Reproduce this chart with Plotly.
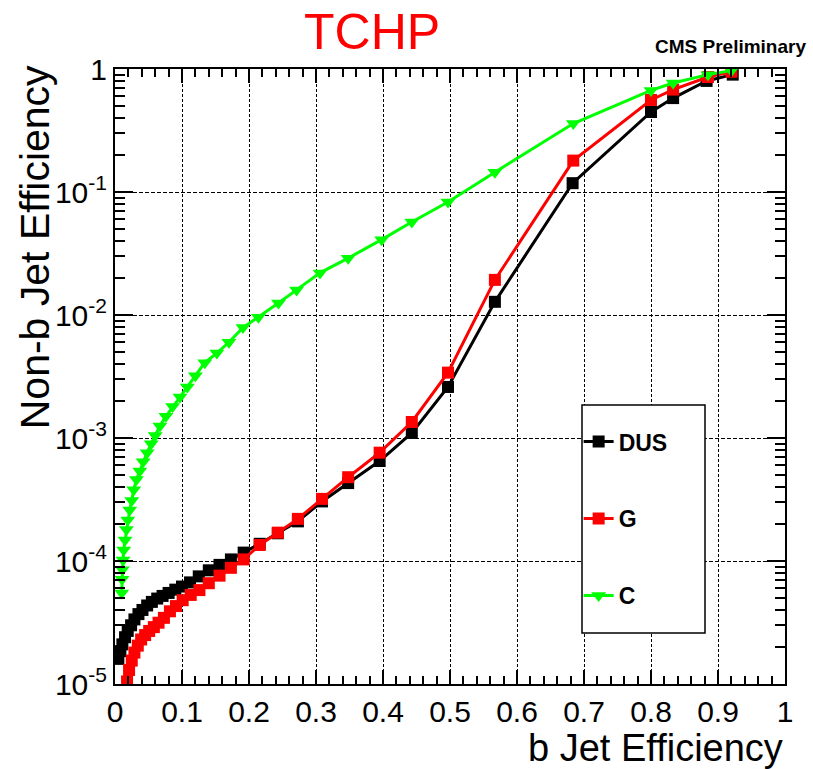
import plotly.graph_objects as go

# ---- data ----
dus_x = [0.005, 0.008, 0.011, 0.015, 0.019, 0.024, 0.029, 0.035, 0.041, 0.048, 0.055, 0.063,
         0.071, 0.080, 0.090, 0.100, 0.112, 0.125, 0.140, 0.156, 0.173, 0.192, 0.216, 0.243,
         0.273, 0.309, 0.348, 0.395, 0.443, 0.497, 0.567, 0.683, 0.800, 0.833, 0.883, 0.922]
dus_y = [1.6e-5, 1.85e-5, 2.1e-5, 2.4e-5, 2.7e-5, 3.0e-5, 3.35e-5, 3.7e-5, 4.0e-5, 4.35e-5,
         4.65e-5, 4.95e-5, 5.2e-5, 5.5e-5, 5.85e-5, 6.2e-5, 6.7e-5, 7.5e-5, 8.4e-5, 9.3e-5,
         1.03e-4, 1.17e-4, 1.38e-4, 1.68e-4, 2.1e-4, 3.05e-4, 4.3e-4, 6.5e-4, 1.1e-3, 2.6e-3,
         0.0128, 0.118, 0.447, 0.58, 0.80, 0.90]

g_x = [0.018, 0.021, 0.025, 0.029, 0.034, 0.039, 0.045, 0.051, 0.058, 0.065, 0.073, 0.082,
       0.091, 0.101, 0.113, 0.126, 0.140, 0.156, 0.173, 0.192, 0.216, 0.243, 0.273, 0.309,
       0.348, 0.395, 0.443, 0.497, 0.567, 0.684, 0.800, 0.833, 0.885, 0.920]
g_y = [1.05e-5, 1.3e-5, 1.55e-5, 1.8e-5, 2.05e-5, 2.3e-5, 2.5e-5, 2.7e-5, 2.9e-5, 3.15e-5,
       3.45e-5, 3.9e-5, 4.3e-5, 4.8e-5, 5.3e-5, 5.8e-5, 6.6e-5, 7.6e-5, 8.8e-5, 1.03e-4,
       1.35e-4, 1.7e-4, 2.2e-4, 3.2e-4, 4.8e-4, 7.6e-4, 1.35e-3, 3.4e-3, 0.0193, 0.18,
       0.56, 0.68, 0.86, 0.95]

c_x = [0.010, 0.0105, 0.011, 0.012, 0.013, 0.015, 0.017, 0.019, 0.022, 0.025, 0.028, 0.032,
       0.037, 0.042, 0.048, 0.054, 0.060, 0.067, 0.076, 0.086, 0.097, 0.108, 0.120, 0.134,
       0.152, 0.170, 0.191, 0.214, 0.244, 0.271, 0.306, 0.348, 0.398, 0.443, 0.497, 0.567,
       0.684, 0.800, 0.833, 0.885, 0.920]
c_y = [5.5e-5, 7.1e-5, 8.5e-5, 1.02e-4, 1.23e-4, 1.48e-4, 1.8e-4, 2.15e-4, 2.6e-4, 3.1e-4,
       3.8e-4, 4.6e-4, 5.4e-4, 6.4e-4, 7.6e-4, 9.0e-4, 1.05e-3, 1.25e-3, 1.5e-3, 1.8e-3,
       2.15e-3, 2.6e-3, 3.2e-3, 4.1e-3, 4.9e-3, 6.0e-3, 7.9e-3, 9.6e-3, 1.25e-2, 1.6e-2,
       2.2e-2, 2.9e-2, 4.1e-2, 5.7e-2, 8.3e-2, 0.145, 0.36, 0.67, 0.77, 0.90, 0.97]

x_ticks = [0, 0.1, 0.2, 0.3, 0.4, 0.5, 0.6, 0.7, 0.8, 0.9, 1]
x_ticktext = ["0", "0.1", "0.2", "0.3", "0.4", "0.5", "0.6", "0.7", "0.8", "0.9", "1"]
y_ticks = [1e-5, 1e-4, 1e-3, 1e-2, 1e-1, 1]
y_ticktext = ["10<sup>-5</sup>", "10<sup>-4</sup>", "10<sup>-3</sup>", "10<sup>-2</sup>",
              "10<sup>-1</sup>", "1"]
y_minor = [k * 10 ** e for e in range(-5, 0) for k in range(2, 10)]

FONT = "Liberation Sans Narrow, Arial Narrow, Liberation Sans, Arial, sans-serif"

fig = go.Figure()
fig.add_trace(go.Scatter(x=dus_x, y=dus_y, name="DUS", mode="lines+markers",
                         line=dict(color="black", width=3),
                         marker=dict(symbol="square", size=12, color="black"),
                         legendgroup="a"))
fig.add_trace(go.Scatter(x=g_x, y=g_y, name="G", mode="lines+markers",
                         line=dict(color="#ff0000", width=3),
                         marker=dict(symbol="square", size=12, color="#ff0000"),
                         legendgroup="b"))
fig.add_trace(go.Scatter(x=c_x, y=c_y, name="C", mode="lines+markers",
                         line=dict(color="#00ff00", width=3),
                         marker=dict(symbol="triangle-down", size=13, color="#00ff00"),
                         legendgroup="c"))

fig.update_layout(
    width=813, height=769,
    margin=dict(l=115, r=28, t=69, b=85),
    paper_bgcolor="white", plot_bgcolor="white",
    font=dict(family=FONT, color="black"),
    showlegend=True,
    legend=dict(x=0.692, y=0.429, xanchor="left", yanchor="top",
                borderwidth=0, bgcolor="rgba(0,0,0,0)",
                font=dict(family="Liberation Sans, Arial, sans-serif", size=23, color="black",
                          weight="bold"),
                tracegroupgap=44, itemwidth=30, entrywidth=85,
                ),
    shapes=[dict(type="rect", xref="paper", yref="paper",
                 x0=(582 - 115) / 670, x1=(705 - 115) / 670,
                 y0=(684 - 633) / 615, y1=(684 - 405) / 615,
                 line=dict(color="black", width=1.5), fillcolor="white", layer="above")],
    xaxis=dict(range=[0, 1], tickmode="array", tickvals=x_ticks, ticktext=x_ticktext,
               ticks="inside", ticklen=14, tickwidth=1.5, tickcolor="black",
               showline=True, linecolor="black", linewidth=2, mirror="ticks",
               showgrid=True, gridcolor="black", gridwidth=1, griddash="3px,2px",
               zeroline=False, tickfont=dict(size=30, family=FONT),
               minor=dict(ticks="inside", ticklen=8, tickcolor="black", tickwidth=1.5,
                          dtick=0.02, tick0=0, showgrid=False)),
    yaxis=dict(type="log", range=[-5, 0], tickmode="array", tickvals=y_ticks,
               ticktext=y_ticktext,
               ticks="inside", ticklen=18, tickwidth=1.5, tickcolor="black",
               showline=True, linecolor="black", linewidth=2, mirror="ticks",
               showgrid=True, gridcolor="black", gridwidth=1, griddash="4px,2px",
               zeroline=False, tickfont=dict(size=30, family=FONT),
               minor=dict(ticks="inside", ticklen=10, tickcolor="black", tickwidth=1.5,
                          tickmode="array", tickvals=y_minor, showgrid=False)),
    annotations=[
        dict(text="TCHP", x=0.3836, y=1.060, xref="paper", yref="paper",
             showarrow=False, xanchor="center", yanchor="middle",
             font=dict(size=50, color="#ff0000", family=FONT)),
        dict(text="<b>CMS Preliminary</b>", x=1.034, y=1.037, xref="paper", yref="paper",
             showarrow=False, xanchor="right", yanchor="middle",
             font=dict(size=19, color="black", family=FONT)),
        dict(text="b Jet Efficiency", x=1.0, y=-0.104, xref="paper", yref="paper",
             showarrow=False, xanchor="right", yanchor="middle",
             font=dict(size=38, color="black", family=FONT)),
        dict(text="Non-b Jet Efficiency", x=-0.119, y=0.7106, xref="paper", yref="paper",
             showarrow=False, xanchor="center", yanchor="middle", textangle=-90,
             font=dict(size=41, color="black", family=FONT)),
    ],
)

fig.write_html("out.html")
